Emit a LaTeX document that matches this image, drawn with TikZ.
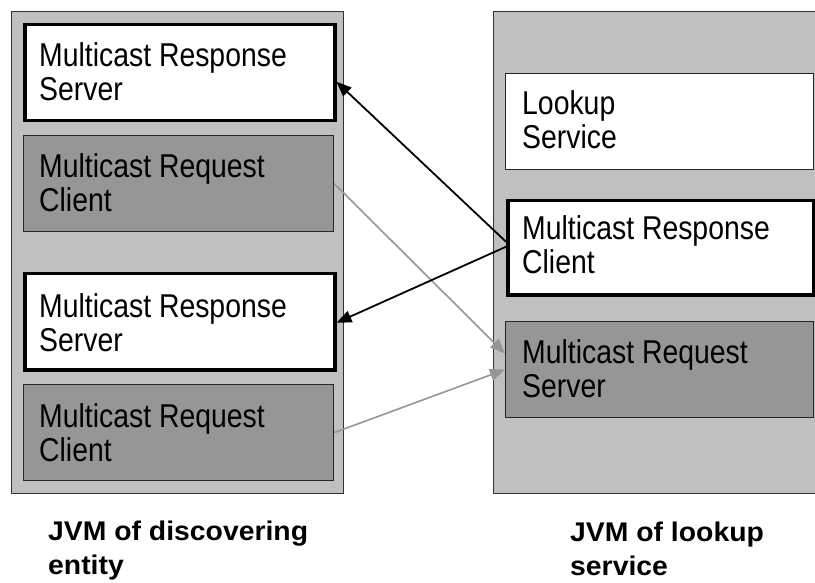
\documentclass[tikz,border=0pt]{standalone}
\usepackage{fontspec}
\setmainfont{Liberation Sans}[FakeStretch=0.86]
\newfontfamily\captionfont{Liberation Sans}[FakeStretch=1.05]
\usetikzlibrary{arrows.meta}

\definecolor{jvmgray}{RGB}{192,192,192}
\definecolor{reqgray}{RGB}{150,150,150}
\definecolor{arrowgray}{RGB}{150,150,150}

\tikzset{
  jvm/.style={draw=black!80, line width=1.3pt, fill=jvmgray, anchor=north west,
    inner sep=0pt, minimum width=332pt, minimum height=482pt},
  slot/.style={draw=black, anchor=north west, inner sep=0pt,
    minimum width=310pt, minimum height=96pt},
  response/.style={slot, fill=white, line width=3.5pt},
  request/.style={slot, fill=reqgray, line width=1.2pt, draw=black!85},
  service/.style={slot, fill=white, line width=1.2pt, draw=black!85},
  boxtext/.style={anchor=base west, inner sep=0pt,
    font=\fontsize{33}{34}\selectfont},
  caption/.style={anchor=base west, inner sep=0pt,
    font=\captionfont\bfseries\fontsize{27}{34}\selectfont},
  call/.style={line width=1.8pt, draw=black,
    -{Triangle[length=15pt,width=12pt]}},
  reply/.style={line width=1.6pt, draw=arrowgray,
    -{Triangle[length=15pt,width=12pt,fill=arrowgray]}}
}

\newcommand{\twolines}[2]{\parbox[t]{300pt}{#1\\#2}}

\begin{document}
\begin{tikzpicture}[x=1pt, y=-1pt]
  \useasboundingbox (0,0) rectangle (815,583);

  % the two JVMs
  \node[jvm] (left) at (11,11) {};
  \begin{scope}
    \clip (0,0) rectangle (815,583);
    \node[jvm, minimum width=340pt] (right) at (493,11) {};
  \end{scope}

  % discovering entity
  \node[response] (mrs1) at (23,23) {};
  \node[request]  (mrq1) at (23,135) {};
  \node[response] (mrs2) at (23,272) {};
  \node[request]  (mrq2) at (23,384) {};

  \node[boxtext] (mrs1t) at ([shift={(16pt,-44pt)}]mrs1.north west) {\twolines{Multicast Response}{Server}};
  \node[boxtext] (mrq1t) at ([shift={(16pt,-43pt)}]mrq1.north west) {\twolines{Multicast Request}{Client}};
  \node[boxtext] (mrs2t) at ([shift={(16pt,-45pt)}]mrs2.north west) {\twolines{Multicast Response}{Server}};
  \node[boxtext] (mrq2t) at ([shift={(16pt,-43pt)}]mrq2.north west) {\twolines{Multicast Request}{Client}};

  % lookup service
  \node[service, minimum width=308pt]  (lus) at (505,73) {};
  \node[response, minimum width=306pt, minimum height=94pt] (mrc) at (506,199) {};
  \node[request, minimum width=308pt]  (mqs) at (505,321) {};

  \node[boxtext] (lust) at ([shift={(17pt,-42pt)}]lus.north west) {\twolines{Lookup}{Service}};
  \node[boxtext] (mrct) at ([shift={(16pt,-41pt)}]mrc.north west) {\twolines{Multicast Response}{Client}};
  \node[boxtext] (mqst) at ([shift={(17pt,-42pt)}]mqs.north west) {\twolines{Multicast Request}{Server}};

  % requests and responses
  \draw[reply] (mrq1.east) -- ([yshift=16pt]mqs.west);
  \draw[reply] (mrq2.east) -- (mqs.west);
  \draw[call] ([yshift=6pt]mrc.west) -- ([yshift=-9pt]mrs1.east);
  \draw[call] ([yshift=1pt]mrc.west) -- ([yshift=-1pt]mrs2.east);

  % captions
  \node[caption] (capl) at (48,540) {\twolines{JVM of discovering}{entity}};
  \node[caption] (capr) at (570,541) {\twolines{JVM of lookup}{service}};
\end{tikzpicture}
\end{document}
